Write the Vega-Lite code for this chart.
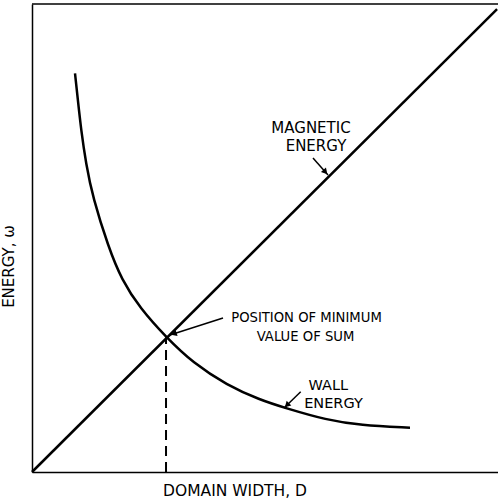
{
  "$schema": "https://vega.github.io/schema/vega-lite/v6.json",
  "width": 466,
  "height": 468,
  "autosize": {"type": "none"},
  "padding": {"left": 32, "top": 4, "right": 0, "bottom": 32},
  "background": "white",
  "config": {
    "view": {"stroke": null},
    "font": "DejaVu Sans",
    "text": {"font": "DejaVu Sans", "fontSize": 14.5, "color": "black"}
  },
  "datasets": {
    "magnetic": [{"d": 0, "e": 0}, {"d": 99.8, "e": 98.9}],
    "top": [{"d": 0, "d2": 100, "e": 100}],
    "wall": [
      {"d": 9.23, "e": 85.19}, {"d": 9.81, "e": 79.8}, {"d": 10.55, "e": 73.0},
      {"d": 11.59, "e": 65.9}, {"d": 13.03, "e": 58.7},
      {"d": 16.37, "e": 48.14}, {"d": 19.25, "e": 41.03}, {"d": 23.18, "e": 35.0},
      {"d": 28.76, "e": 28.8},
      {"d": 34.55, "e": 23.3}, {"d": 41.78, "e": 18.6}, {"d": 48.93, "e": 15.4},
      {"d": 54.29, "e": 13.7}, {"d": 63.24, "e": 11.1}, {"d": 70.39, "e": 10.0},
      {"d": 81.12, "e": 9.47}
    ],
    "dash": [{"d": 28.76, "e": 0, "e2": 28.8}],
    "arrows": [
      {"name": "magnetic", "d": 60.3, "e": 67.09, "d2": 63.52, "e2": 63.46, "hd": 62.96, "he": 64.1},
      {"name": "wall", "d": 57.66, "e": 17.16, "d2": 54.08, "e2": 13.68, "hd": 54.7, "he": 14.27},
      {"name": "position", "d": 40.99, "e": 32.91, "d2": 29.61, "e2": 29.27, "hd": 30.43, "he": 29.53}
    ],
    "labels": [
      {"note": "magnetic", "text": "MAGNETIC", "d": 59.87, "e": 72.44},
      {"note": "magnetic", "text": "ENERGY", "d": 60.94, "e": 68.59},
      {"note": "position", "text": "POSITION OF MINIMUM", "d": 58.9, "e": 32.12},
      {"note": "position", "text": "VALUE OF SUM", "d": 58.69, "e": 27.99},
      {"note": "wall", "text": "WALL", "d": 63.59, "e": 17.52},
      {"note": "wall", "text": "ENERGY", "d": 64.7, "e": 13.74}
    ]
  },
  "encoding": {
    "x": {
      "field": "d", "type": "quantitative",
      "scale": {"domain": [0, 100], "nice": false, "zero": false},
      "axis": {
        "title": "DOMAIN WIDTH, D", "domain": true, "domainColor": "black", "domainWidth": 1.5,
        "ticks": false, "labels": false, "grid": false,
        "titleX": 202.5, "titleY": 23, "titleAlign": "center", "titleBaseline": "alphabetic",
        "titleFont": "DejaVu Sans", "titleFontSize": 15.5, "titleFontWeight": "normal", "titleColor": "black"
      }
    },
    "y": {
      "field": "e", "type": "quantitative",
      "scale": {"domain": [0, 100], "nice": false, "zero": false},
      "axis": {
        "title": "ENERGY, ω", "domain": true, "domainColor": "black", "domainWidth": 1.5,
        "ticks": false, "labels": false, "grid": false,
        "titleX": -19, "titleY": 262, "titleAngle": 270, "titleAlign": "center", "titleBaseline": "alphabetic",
        "titleFont": "DejaVu Sans", "titleFontSize": 15, "titleFontWeight": "normal", "titleColor": "black"
      }
    }
  },
  "layer": [
    {"data": {"name": "top"}, "mark": {"type": "rule", "color": "black", "strokeWidth": 1.5},
      "encoding": {"x2": {"field": "d2"}}},
    {"data": {"name": "magnetic"}, "mark": {"type": "line", "color": "black", "strokeWidth": 2.5}},
    {"data": {"name": "wall"}, "mark": {"type": "line", "color": "black", "strokeWidth": 2.5, "interpolate": "basis"}},
    {"data": {"name": "dash"}, "mark": {"type": "rule", "color": "black", "strokeWidth": 2, "strokeDash": [10, 6]},
      "encoding": {"y2": {"field": "e2"}}},
    {"data": {"name": "arrows"}, "mark": {"type": "rule", "color": "black", "strokeWidth": 1.5},
      "encoding": {"x2": {"field": "d2"}, "y2": {"field": "e2"}}},
    {"data": {"name": "arrows"}, "transform": [{"filter": "datum.name === 'magnetic'"}],
      "mark": {"type": "point", "shape": "triangle-up", "filled": true, "color": "black", "size": 45, "angle": 138.6, "opacity": 1},
      "encoding": {"x": {"field": "hd", "type": "quantitative"}, "y": {"field": "he", "type": "quantitative"}}},
    {"data": {"name": "arrows"}, "transform": [{"filter": "datum.name === 'wall'"}],
      "mark": {"type": "point", "shape": "triangle-up", "filled": true, "color": "black", "size": 45, "angle": 225.7, "opacity": 1},
      "encoding": {"x": {"field": "hd", "type": "quantitative"}, "y": {"field": "he", "type": "quantitative"}}},
    {"data": {"name": "arrows"}, "transform": [{"filter": "datum.name === 'position'"}],
      "mark": {"type": "point", "shape": "triangle-up", "filled": true, "color": "black", "size": 45, "angle": 252.2, "opacity": 1},
      "encoding": {"x": {"field": "hd", "type": "quantitative"}, "y": {"field": "he", "type": "quantitative"}}},
    {"data": {"name": "labels"}, "transform": [{"filter": "datum.note === 'magnetic'"}],
      "mark": {"type": "text", "align": "center", "baseline": "alphabetic", "fontSize": 15},
      "encoding": {"text": {"field": "text"}}},
    {"data": {"name": "labels"}, "transform": [{"filter": "datum.note === 'position'"}],
      "mark": {"type": "text", "align": "center", "baseline": "alphabetic", "fontSize": 13.2},
      "encoding": {"text": {"field": "text"}}},
    {"data": {"name": "labels"}, "transform": [{"filter": "datum.note === 'wall'"}],
      "mark": {"type": "text", "align": "center", "baseline": "alphabetic", "fontSize": 14.5},
      "encoding": {"text": {"field": "text"}}}
  ]
}
